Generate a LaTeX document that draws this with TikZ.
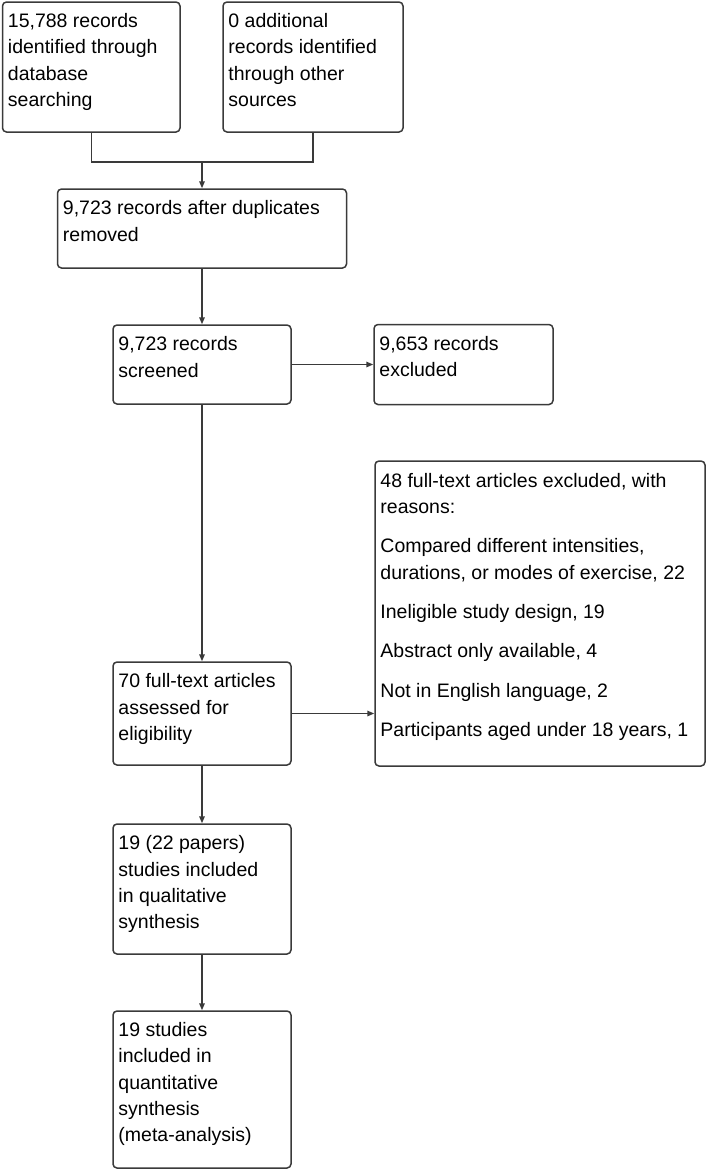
\documentclass[tikz,border=0pt]{standalone}
\usepackage{fontspec}
\setmainfont{Liberation Sans}
\usetikzlibrary{arrows.meta,calc}
\definecolor{linec}{HTML}{3A3A3A}
\tikzset{
  box/.style={draw=linec, line width=1.5pt, rounded corners=4pt, inner sep=0pt, fill=white},
  txt/.style={anchor=base west, inner sep=0pt, font=\fontsize{19.5}{26}\selectfont, text=black},
  conn/.style={draw=linec, line width=1.5pt},
  arr/.style={conn, -{Triangle[length=7pt,width=5.5pt]}}
}
\newcommand{\tl}[1]{\vtop{\baselineskip=26.3pt #1}}
\begin{document}
\begin{tikzpicture}[x=1pt,y=-1pt]
\useasboundingbox (0,0) rectangle (709,1171);
% boxes
\node[box, minimum width=177.5pt, minimum height=130pt] (A) at (91.25,67) {};
\node[box, minimum width=180pt, minimum height=130pt] (B) at (313,67) {};
\node[box, minimum width=289pt, minimum height=79pt] (C) at (202,228.5) {};
\node[box, minimum width=178pt, minimum height=79pt] (D) at (202,364.5) {};
\node[box, minimum width=179pt, minimum height=80pt] (E) at (463.5,364.5) {};
\node[box, minimum width=330pt, minimum height=305pt] (F) at (540,613.5) {};
\node[box, minimum width=178pt, minimum height=103pt] (G) at (202,713.5) {};
\node[box, minimum width=178pt, minimum height=130pt] (H) at (202,889) {};
\node[box, minimum width=178pt, minimum height=157pt] (I) at (202,1089.5) {};
% texts
\node[txt] (At) at ($(A.north west)+(6,26.3)$) {\tl{\hbox{15,788 records}\hbox{identified through}\hbox{database}\hbox{searching}}};
\node[txt] (Bt) at ($(B.north west)+(6,26.3)$) {\tl{\hbox{0 additional}\hbox{records identified}\hbox{through other}\hbox{sources}}};
\node[txt] (Ct) at ($(C.north west)+(6,26.5)$) {\tl{\hbox{9,723 records after duplicates}\hbox{removed}}};
\node[txt] (Dt) at ($(D.north west)+(6,26.5)$) {\tl{\hbox{9,723 records}\hbox{screened}}};
\node[txt] (Et) at ($(E.north west)+(6,26.5)$) {\tl{\hbox{9,653 records}\hbox{excluded}}};
\node[txt] (Ft) at ($(F.north west)+(6,27)$) {\tl{\hbox{48 full-text articles excluded, with}\hbox{reasons:}\vskip13pt
  \hbox{Compared different intensities,}\hbox{durations, or modes of exercise, 22}\vskip13pt
  \hbox{Ineligible study design, 19}\vskip13pt
  \hbox{Abstract only available, 4}\vskip13pt
  \hbox{Not in English language, 2}\vskip13pt
  \hbox{Participants aged under 18 years, 1}}};
\node[txt] (Gt) at ($(G.north west)+(6,26.5)$) {\tl{\hbox{70 full-text articles}\hbox{assessed for}\hbox{eligibility}}};
\node[txt] (Ht) at ($(H.north west)+(6,26.5)$) {\tl{\hbox{19 (22 papers)}\hbox{studies included}\hbox{in qualitative}\hbox{synthesis}}};
\node[txt] (It) at ($(I.north west)+(6,26.3)$) {\tl{\hbox{19 studies}\hbox{included in}\hbox{quantitative}\hbox{synthesis}\hbox{(meta-analysis)}}};
% connectors
\coordinate (J) at (202,162);
\draw[conn] (A.south) -- (A.south |- J) -| (B.south);
\draw[arr] (J) -- (C.north);
\draw[arr] (C.south) -- (D.north);
\draw[arr] (D.east) -- (E.west);
\draw[arr] (D.south) -- (G.north);
\draw[arr] (G.east) -- (G.east -| F.west);
\draw[arr] (G.south) -- (H.north);
\draw[arr] (H.south) -- (I.north);
\end{tikzpicture}
\end{document}
